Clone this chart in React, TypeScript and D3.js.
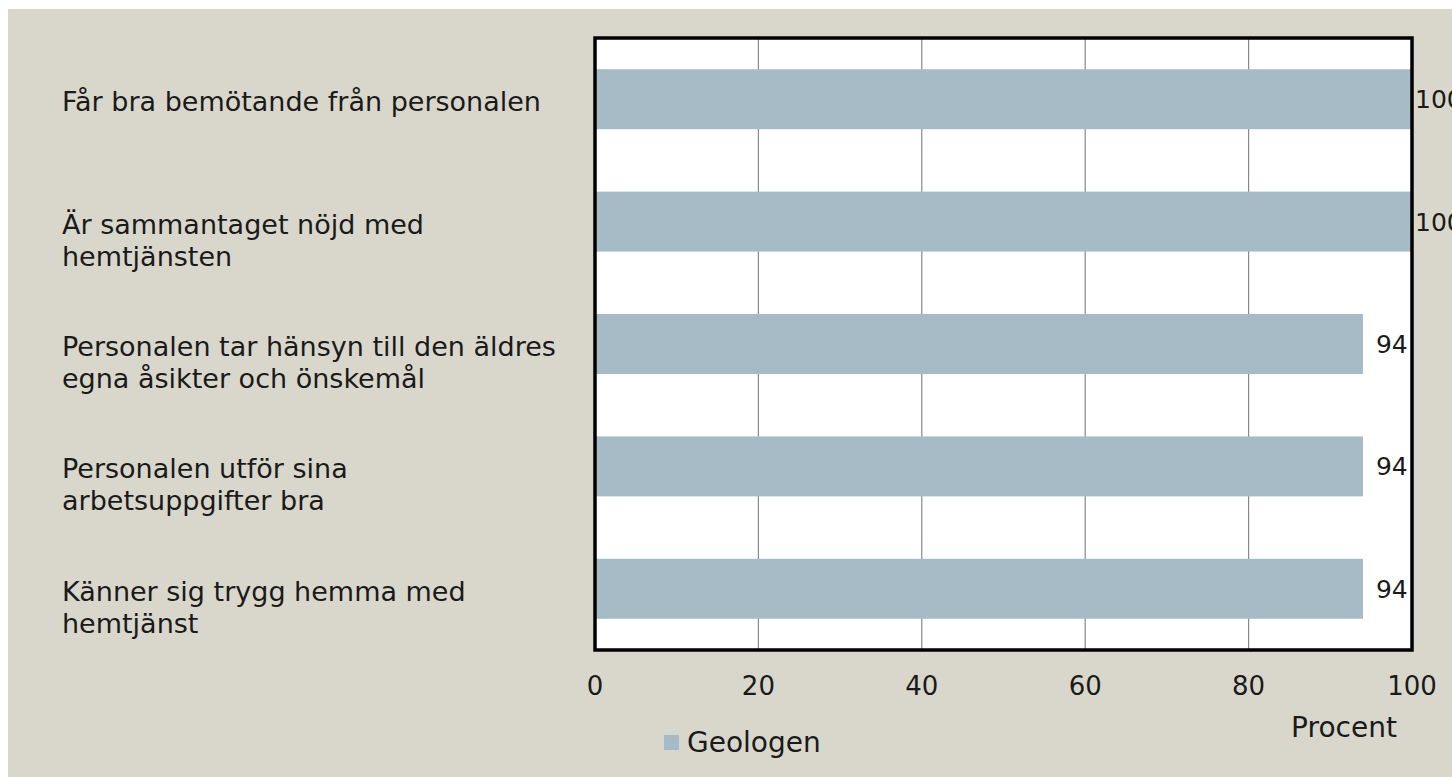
import React from "react";
import * as d3 from "d3";

// chart data
const categories = [
	"Får bra bemötande från personalen",
	"Är sammantaget nöjd med hemtjänsten",
	"Personalen tar hänsyn till den äldres egna åsikter och önskemål",
	"Personalen utför sina arbetsuppgifter bra",
	"Känner sig trygg hemma med hemtjänst",
];
const categoryLines = [
	["Får bra bemötande från personalen"],
	["Är sammantaget nöjd med", "hemtjänsten"],
	["Personalen tar hänsyn till den äldres", "egna åsikter och önskemål"],
	["Personalen utför sina", "arbetsuppgifter bra"],
	["Känner sig trygg hemma med", "hemtjänst"],
];
const values = [100, 100, 94, 94, 94];
const xTicks = [0, 20, 40, 60, 80, 100];
const seriesName = "Geologen";
const axisTitle = "Procent";

const W = 1444;
const H = 768;
const margin = { top: 29, right: 40, bottom: 127, left: 587 };
const FONT = "'DejaVu Sans', sans-serif";
const BAR = "#a7bbc6";
const BG = "#d9d7cb";

export default function App() {
	const x = d3
		.scaleLinear()
		.domain([0, 100])
		.range([margin.left, W - margin.right]);
	const y = d3
		.scaleBand<string>()
		.domain(categories)
		.range([margin.top, H - margin.bottom])
		.paddingInner(0.51)
		.paddingOuter(0.255);
	const plotTop = margin.top;
	const plotBottom = H - margin.bottom;

	return (
		<svg
			width={W}
			height={H}
			style={{ position: "absolute", left: 8, top: 9, display: "block" }}
		>
			<rect x={0} y={0} width={W} height={H} fill={BG} />
			{/* plot area */}
			<rect
				x={x(0)}
				y={plotTop}
				width={x(100) - x(0)}
				height={plotBottom - plotTop}
				fill="#ffffff"
			/>
			{/* gridlines */}
			{xTicks.slice(1, -1).map((t) => (
				<line
					key={"g" + t}
					x1={x(t)}
					x2={x(t)}
					y1={plotTop}
					y2={plotBottom}
					stroke="#888888"
					strokeWidth={1.2}
				/>
			))}
			{/* bars */}
			{categories.map((c, i) => (
				<rect
					key={"b" + i}
					x={x(0)}
					y={y(c)}
					width={x(values[i]) - x(0)}
					height={y.bandwidth()}
					fill={BAR}
				/>
			))}
			{/* border */}
			<rect
				x={x(0)}
				y={plotTop}
				width={x(100) - x(0)}
				height={plotBottom - plotTop}
				fill="none"
				stroke="#000000"
				strokeWidth={3.5}
			/>
			{/* value labels (the 100s run past the edge like in the original) */}
			{categories.map((c, i) => (
				<text
					key={"v" + i}
					x={x(values[i]) + (values[i] >= 100 ? 3 : 13)}
					y={(y(c) ?? 0) + y.bandwidth() / 2 + 9}
					fontFamily={FONT}
					fontSize={25}
					fill="#1a1a1a"
				>
					{values[i]}
				</text>
			))}
			{/* category labels */}
			{categories.map((c, i) => {
				const cy = (y(c) ?? 0) + y.bandwidth() / 2;
				return (
					<text
						key={"c" + i}
						x={54}
						y={cy + 12}
						fontFamily={FONT}
						fontSize={27}
						fill="#1a1a1a"
					>
						{categoryLines[i].map((ln, j) => (
							<tspan key={j} x={54} dy={j === 0 ? 0 : 32}>
								{ln}
							</tspan>
						))}
					</text>
				);
			})}
			{/* x tick labels */}
			{xTicks.map((t) => (
				<text
					key={"t" + t}
					x={x(t)}
					y={686}
					textAnchor="middle"
					fontFamily={FONT}
					fontSize={26}
					fill="#1a1a1a"
				>
					{t}
				</text>
			))}
			<text
				x={1336}
				y={728}
				textAnchor="middle"
				fontFamily={FONT}
				fontSize={28}
				fill="#1a1a1a"
			>
				{axisTitle}
			</text>
			{/* legend */}
			<rect x={656} y={726} width={15} height={15} fill={BAR} />
			<text x={679} y={743} fontFamily={FONT} fontSize={28} fill="#1a1a1a">
				{seriesName}
			</text>
		</svg>
	);
}
